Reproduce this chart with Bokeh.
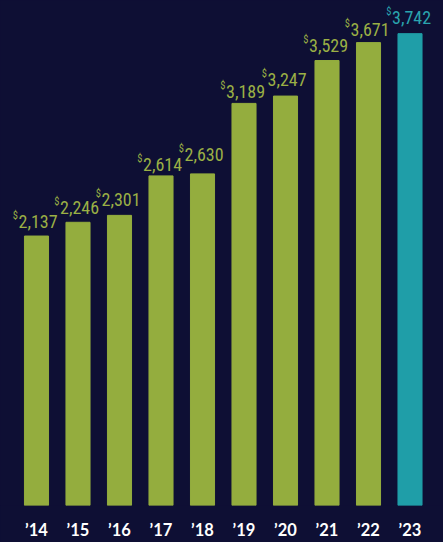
from bokeh.plotting import figure
from bokeh.models import ColumnDataSource, FixedTicker, Range1d
from bokeh.core.properties import value
from bokeh.embed import file_html
from bokeh.resources import INLINE

years = ["’14", "’15", "’16", "’17", "’18", "’19", "’20", "’21", "’22", "’23"]
amounts = [2137, 2246, 2301, 2614, 2630, 3189, 3247, 3529, 3671, 3742]
labels = ["2,137", "2,246", "2,301", "2,614", "2,630", "3,189", "3,247", "3,529", "3,671", "3,742"]

# small vertical nudges (px) of the value labels, as in the original layout
label_nudge = [0, 0, 1, -4, 4, -3, 2, 0, -2, 1]

BG = "#0e0f34"
GREEN = "#94ad3e"
TEAL = "#1f9ea8"
GREEN_TXT = "#9bb045"
TEAL_TXT = "#2aa4ae"
LABEL_FONT = "Roboto Condensed"

xs = list(range(len(years)))
bar_colors = [GREEN] * (len(years) - 1) + [TEAL]
txt_colors = [GREEN_TXT] * (len(years) - 1) + [TEAL_TXT]
num_off = [-15 - n for n in label_nudge]
dol_off = [-21 - n for n in label_nudge]

src = ColumnDataSource(dict(x=xs, y=amounts, lab=labels, dollar=["$"] * len(xs),
                            bc=bar_colors, tc=txt_colors, no=num_off, do=dol_off))

p = figure(width=443, height=542, output_backend="svg", toolbar_location=None,
           x_range=Range1d(-0.8675, 9.807), y_range=Range1d(0, 4005),
           min_border_left=0, min_border_right=0, min_border_top=0, min_border_bottom=33,
           background_fill_color=BG, border_fill_color=BG, outline_line_color=None)

p.vbar(x="x", top="y", width=0.58, bottom=0, color="bc", source=src)

p.text(x="x", y="y", text="lab", source=src, text_color="tc",
       text_font=value(LABEL_FONT), text_font_size="18px",
       text_align="left", text_baseline="alphabetic", x_offset=-18, y_offset="no")
p.text(x="x", y="y", text="dollar", source=src, text_color="tc",
       text_font=value(LABEL_FONT), text_font_size="10.5px",
       text_align="right", text_baseline="alphabetic", x_offset=-18.5, y_offset="do")

p.yaxis.visible = False
p.grid.visible = False
ax = p.xaxis[0]
ax.ticker = FixedTicker(ticks=xs)
ax.major_label_overrides = {i: y for i, y in zip(xs, years)}
ax.axis_line_color = None
ax.major_tick_line_color = None
ax.minor_tick_line_color = None
ax.major_tick_out = 0
ax.major_tick_in = 0
ax.major_label_standoff = 14
ax.major_label_text_color = "white"
ax.major_label_text_font = "Lato"
ax.major_label_text_font_style = "bold"
ax.major_label_text_font_size = "16.5px"

template = """{% block preamble %}<style>html,body{margin:0;padding:0;background:#0e0f34;overflow:hidden;}</style>{% endblock %}
"""

open("out.html", "w").write(file_html(p, INLINE, template=template))
